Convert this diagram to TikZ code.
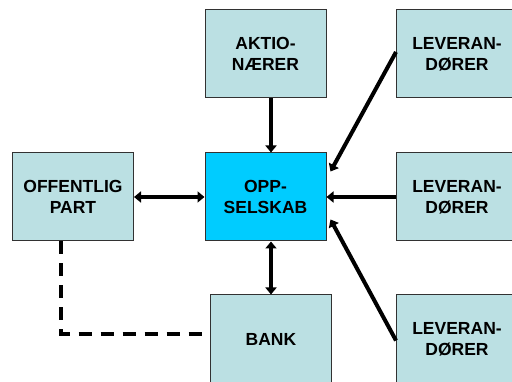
\documentclass[tikz,border=0pt]{standalone}
\usepackage{fontspec}
\setmainfont{Liberation Sans}
\usetikzlibrary{arrows.meta,calc}
\definecolor{boxfill}{RGB}{187,224,227}
\definecolor{oppfill}{RGB}{0,204,255}
\definecolor{boxline}{RGB}{50,50,50}
\tikzset{
  box/.style={draw=boxline, line width=1pt, fill=boxfill, minimum width=121pt, minimum height=88pt, inner sep=0pt, align=center, font=\fontsize{17.5}{21}\selectfont\bfseries},
  mainbox/.style={box, fill=oppfill},
  conn/.style={line width=4pt, -{Triangle[length=7pt,width=11pt]}},
  bconn/.style={line width=4pt, {Triangle[length=7pt,width=11pt]}-{Triangle[length=7pt,width=11pt]}},
  dashconn/.style={line width=4pt, dash pattern=on 13pt off 9pt}
}
\begin{document}
\begin{tikzpicture}[x=1pt,y=-1pt]
\useasboundingbox (0,0) rectangle (512,382);
\clip (0,0) rectangle (512,382);
\node[box] (aktio) at (265.5,54) {AKTIO-\\NÆRER};
\node[box] (levtop) at (457,54) {LEVERAN-\\DØRER};
\node[box] (off) at (73,197) {OFFENTLIG\\PART};
\node[mainbox] (opp) at (265.5,197) {OPP-\\SELSKAB};
\node[box] (levmid) at (457,197) {LEVERAN-\\DØRER};
\node[box, minimum height=89pt] (bank) at (271,339.5) {BANK};
\node[box, minimum height=89pt] (levbot) at (457,339.5) {LEVERAN-\\DØRER};
\draw[conn] (aktio.south -| bank.north) -- (opp.north -| bank.north);
\draw[bconn] (opp.south -| bank.north) -- (bank.north);
\draw[bconn] (off.east) -- (opp.west);
\draw[conn] (levmid.west) -- (opp.east);
\draw[conn] ([yshift=2pt]levtop.west) -- ([shift={(4,19)}]opp.north east);
\draw[conn] ([yshift=-1pt]levbot.west) -- ([shift={(4,-22)}]opp.south east);
\coordinate (corner) at (61,334);
\draw[dashconn] ([xshift=-12pt]off.south) -- (corner) -- (corner -| bank.west);
\end{tikzpicture}
\end{document}
